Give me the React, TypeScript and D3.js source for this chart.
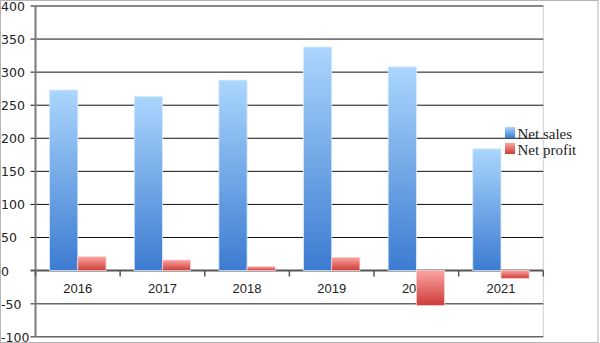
import React from "react";
import * as d3 from "d3";

const categories = ["2016", "2017", "2018", "2019", "2020", "2021"];
const netSales = [273, 263, 288, 338, 308, 184];
const netProfit = [21, 16, 6, 20, -53, -12];
const yTicks = [400, 350, 300, 250, 200, 150, 100, 50, 0, -50, -100];
const seriesNames = ["Net sales", "Net profit"];

const W = 600;
const H = 343;

export default function App() {
  const left = 35.5;
  const right = 543.3;
  const y = d3.scaleLinear().domain([-100, 400]).range([336.7, 6]);
  const x = d3.scaleBand().domain(categories).range([left, right]).paddingInner(0).paddingOuter(0);
  const bw = x.bandwidth();
  const barW = bw / 3;
  const y0 = y(0);

  return (
    <div style={{ position: "fixed", left: 0, top: 0 }}>
      <svg width={W} height={H} style={{ display: "block" }}>
        <defs>
          <linearGradient id="gBlue" x1="0" y1="0" x2="0" y2="1">
            <stop offset="0" stopColor="#abd6fd" />
            <stop offset="1" stopColor="#3c7bd1" />
          </linearGradient>
          <linearGradient id="gRed" x1="0" y1="0" x2="0" y2="1">
            <stop offset="0" stopColor="#fba4a3" />
            <stop offset="1" stopColor="#cd3c36" />
          </linearGradient>
        </defs>
        <rect x={0} y={0} width={W} height={H} fill="#fff" />
        <rect x={0.5} y={0.5} width={597.5} height={H - 1} fill="none" stroke="#b5b5b5" />
        {/* plot right border */}
        <line x1={right} x2={right} y1={y(400)} y2={y(-100)} stroke="#cfcfcf" strokeWidth={1} />
        {/* gridlines */}
        {yTicks.map((t) => (
          <g key={t}>
            <line
              x1={left - 5}
              x2={right}
              y1={y(t)}
              y2={y(t)}
              stroke={t === 0 ? "#555" : t < 0 ? "#666" : "#111"}
              strokeWidth={t === 0 ? 2 : t < 0 ? 1.5 : 1}
            />
            <text
              x={1}
              y={y(t) + 0.5}
              textAnchor="start"
              dominantBaseline="central"
              fontFamily="DejaVu Sans, Verdana, sans-serif"
              fontSize={12.5}
              fill="#222"
            >
              {t}
            </text>
          </g>
        ))}
        {/* left axis */}
        <line x1={left} x2={left} y1={y(400)} y2={y(-100)} stroke="#7a7a7a" strokeWidth={2} />
        {/* x ticks */}
        {categories.map((c) => (
          <line key={"t" + c} x1={x(c)!} x2={x(c)!} y1={y0} y2={y0 + 6} stroke="#555" strokeWidth={1.5} />
        ))}
        <line x1={right} x2={right} y1={y0} y2={y0 + 6} stroke="#555" strokeWidth={1.5} />
        {/* x labels */}
        {categories.map((c) => (
          <text
            key={"l" + c}
            x={x(c)! + bw / 2}
            y={y0 + 17.5}
            textAnchor="middle"
            dominantBaseline="central"
            fontFamily="Liberation Sans, Arial, sans-serif"
            fontSize={13}
            fill="#222"
          >
            {c}
          </text>
        ))}
        {/* bars */}
        {categories.map((c, i) => {
          const bx = x(c)! + barW / 2;
          const s = netSales[i];
          const p = netProfit[i];
          return (
            <g key={"b" + c}>
              <rect
                x={bx}
                y={y(s)}
                width={barW}
                height={y0 - y(s)}
                fill="url(#gBlue)"
                stroke="#d6ebfd"
                strokeWidth={0.8}
              />
              <rect
                x={bx + barW}
                y={Math.min(y(p), y0)}
                width={barW}
                height={Math.abs(y0 - y(p))}
                fill="url(#gRed)"
                stroke="#fbd3d3"
                strokeWidth={0.8}
              />
            </g>
          );
        })}
        {/* legend */}
        {seriesNames.map((n, i) => (
          <g key={n} transform={`translate(505, ${127 + i * 16})`}>
            <rect x={0} y={0} width={10} height={11} fill={i === 0 ? "url(#gBlue)" : "url(#gRed)"} />
            <text
              x={12.5}
              y={11.5}
              fontFamily="Liberation Serif, Times New Roman, serif"
              fontSize={15}
              fill="#222"
            >
              {n}
            </text>
          </g>
        ))}
      </svg>
    </div>
  );
}
